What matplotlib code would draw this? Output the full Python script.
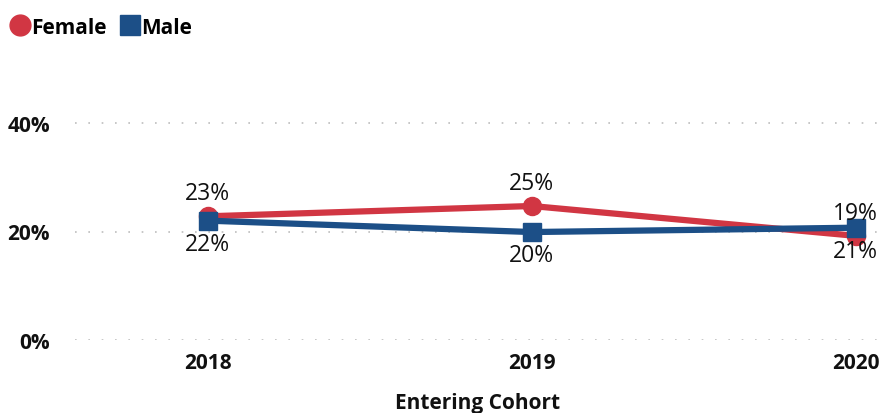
import matplotlib
matplotlib.use("Agg")
import matplotlib.pyplot as plt
from matplotlib.lines import Line2D

cohorts = ["2018", "2019", "2020"]
female = [22.8, 24.7, 19.2]
male = [22.0, 19.9, 20.7]
female_labels = ["23%", "25%", "19%"]
male_labels = ["22%", "20%", "21%"]
yticks = [0, 20, 40]
ytick_labels = ["0%", "20%", "40%"]

RED = "#D13643"
BLUE = "#1C4F87"
FONT = "Open Sans"

plt.rcParams['font.family'] = [FONT, 'DejaVu Sans']

W, H = 881, 414
fig = plt.figure(figsize=(W/100, H/100), dpi=100)
ax = fig.add_axes([75/W, (H-341)/H, (881-75)/W, (341-69.75)/H])
ax.set_xlim(-0.41, 2.078)
ax.set_ylim(0, 50)

x = list(range(len(cohorts)))
ax.plot(x, female, color=RED, lw=4.5, marker='o', ms=13, zorder=3, solid_capstyle='round')
ax.plot(x, male, color=BLUE, lw=4.5, marker='s', ms=13, zorder=4)

for xi, v, t in zip(x, female, female_labels):
    ax.annotate(t, (xi, v), xytext=(0, 8), textcoords='offset points',
                ha='center', va='bottom', fontsize=16.5, color='#111111', zorder=5)
for xi, v, t in zip(x, male, male_labels):
    ax.annotate(t, (xi, v), xytext=(0, -8), textcoords='offset points',
                ha='center', va='top', fontsize=16.5, color='#111111', zorder=5)

ax.set_yticks(yticks)
ax.set_yticklabels(ytick_labels)
ax.set_xticks(x)
ax.set_xticklabels(cohorts)
ax.tick_params(axis='both', length=0, labelsize=15, colors='#111111')
ax.tick_params(axis='y', pad=18)
ax.tick_params(axis='x', pad=9)
for lbl in ax.get_xticklabels() + ax.get_yticklabels():
    lbl.set_fontweight('bold')
ax.yaxis.grid(True, color='#BDBDBD', linestyle=(0, (1, 7)), lw=1.2)
ax.set_axisbelow(True)
for s in ax.spines.values():
    s.set_visible(False)

ax.set_xlabel("Entering Cohort", fontsize=15, fontweight='bold', color='#111111', labelpad=13)

handles = [Line2D([], [], color=RED, marker='o', ms=15, lw=0, label='Female'),
           Line2D([], [], color=BLUE, marker='s', ms=15, lw=0, label='Male')]
leg = fig.legend(handles=handles, loc='upper left', bbox_to_anchor=(-0.008, 1.003), ncol=2,
                 frameon=False, handlelength=0.8, handletextpad=0.15, columnspacing=0.7,
                 prop={'family': FONT, 'size': 15, 'weight': 'bold'})

fig.savefig("out.png", dpi=100)
